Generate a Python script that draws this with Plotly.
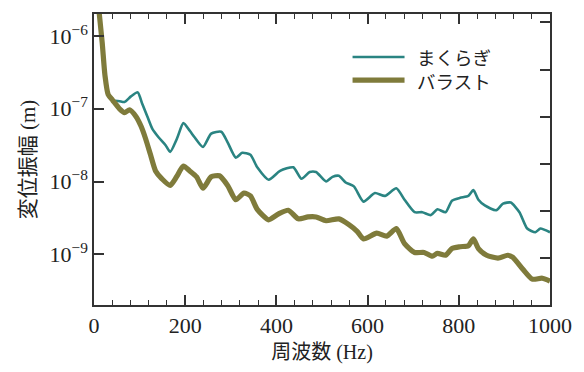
import plotly.graph_objects as go

# ---- data ----
series_names = ["まくらぎ", "バラスト"]

freq_sleeper = [12, 18, 24, 31, 41, 56, 67, 81, 96, 106, 117, 128, 142, 157, 167, 182,
                196, 210, 221, 239, 257, 279, 293, 311, 325, 343, 358, 383, 408, 437,
                455, 473, 487, 509, 523, 537, 552, 570, 591, 616, 638, 663, 681, 703,
                720, 739, 753, 771, 785, 803, 821, 832, 843, 857, 882, 897, 914, 933,
                950, 968, 979, 1000]
disp_sleeper = [2.2e-6, 8.09e-7, 2.89e-7, 1.57e-7, 1.31e-7, 1.27e-7, 1.24e-7, 1.48e-7,
                1.68e-7, 1.16e-7, 7.85e-8, 5.30e-8, 4.03e-8, 3.16e-8, 2.56e-8, 3.91e-8,
                6.35e-8, 4.98e-8, 4.03e-8, 2.98e-8, 4.55e-8, 4.83e-8, 3.46e-8, 2.13e-8,
                2.48e-8, 2.33e-8, 1.57e-8, 1.06e-8, 1.40e-8, 1.57e-8, 1.09e-8, 1.35e-8,
                1.35e-8, 1.0e-8, 1.16e-8, 1.20e-8, 9.7e-9, 8.59e-9, 5.30e-9, 6.95e-9,
                6.35e-9, 8.09e-9, 5.62e-9, 3.79e-9, 3.79e-9, 3.46e-9, 4.15e-9, 3.79e-9,
                5.46e-9, 5.97e-9, 6.35e-9, 7.62e-9, 5.62e-9, 4.69e-9, 4.03e-9, 4.98e-9,
                5.14e-9, 3.79e-9, 2.26e-9, 2.01e-9, 2.26e-9, 2.01e-9]

freq_ballast = [11, 18, 24, 31, 41, 56, 67, 78, 92, 103, 113, 124, 135, 149, 167, 181,
                196, 210, 225, 239, 257, 275, 293, 311, 329, 343, 358, 383, 404, 426,
                448, 469, 487, 509, 537, 559, 577, 591, 620, 642, 663, 681, 703, 724,
                742, 753, 771, 785, 803, 821, 832, 843, 861, 886, 907, 918, 941, 961,
                983, 1000]
disp_ballast = [2.2e-6, 8.09e-7, 2.89e-7, 1.57e-7, 1.31e-7, 1.0e-7, 8.86e-8, 9.7e-8,
                7.85e-8, 5.79e-8, 3.91e-8, 2.33e-8, 1.40e-8, 1.09e-8, 8.85e-9, 1.16e-8,
                1.63e-8, 1.40e-8, 1.16e-8, 8.09e-9, 1.16e-8, 1.20e-8, 8.85e-9, 5.62e-9,
                6.95e-9, 6.35e-9, 4.15e-9, 2.98e-9, 3.57e-9, 4.03e-9, 3.07e-9, 3.26e-9,
                3.26e-9, 2.89e-9, 3.07e-9, 2.56e-9, 2.07e-9, 1.63e-9, 1.95e-9, 1.78e-9,
                2.26e-9, 1.40e-9, 1.06e-9, 1.06e-9, 9.41e-10, 1.03e-9, 9.7e-10, 1.20e-9,
                1.27e-9, 1.31e-9, 1.63e-9, 1.20e-9, 9.7e-10, 8.86e-10, 9.7e-10, 9.14e-10,
                6.16e-10, 4.55e-10, 4.69e-10, 4.28e-10]

y_tickvals = [1e-9, 1e-8, 1e-7, 1e-6]
y_ticktext = ["10<sup>−9</sup>", "10<sup>−8</sup>", "10<sup>−7</sup>", "10<sup>−6</sup>"]
x_tickvals = [0, 200, 400, 600, 800, 1000]
right_tickvals = [1, 2, 3, 4, 5, 6]

# ---- style ----
TEAL = "#2a8482"
OLIVE = "#7f7b3b"
AXC = "#333333"
SERIF = "Liberation Serif"
CJK = "Noto Sans CJK JP"
MIXED = "Liberation Serif, Noto Sans CJK JP"

fig = go.Figure()
fig.add_trace(go.Scatter(x=freq_sleeper, y=disp_sleeper, mode="lines",
                         name=series_names[0],
                         line=dict(color=TEAL, width=2.6, shape="spline", smoothing=0.6),
                         showlegend=False))
fig.add_trace(go.Scatter(x=freq_ballast, y=disp_ballast, mode="lines",
                         name=series_names[1],
                         line=dict(color=OLIVE, width=5.2, shape="spline", smoothing=0.6),
                         showlegend=False))
# empty trace so the right-hand tick axis is drawn
fig.add_trace(go.Scatter(x=[], y=[], yaxis="y2", showlegend=False, hoverinfo="skip"))

# custom legend (long line samples like the reference)
leg_y = [0.852, 0.773]
leg_col = [TEAL, OLIVE]
leg_w = [2.6, 5.2]
for i in range(2):
    fig.add_shape(type="line", xref="paper", yref="paper",
                  x0=0.567, x1=0.681, y0=leg_y[i], y1=leg_y[i],
                  line=dict(color=leg_col[i], width=leg_w[i]))
fig.add_annotation(xref="paper", yref="paper", x=0.703, y=(leg_y[0] + leg_y[1]) / 2,
                   xanchor="left", yanchor="middle", showarrow=False, align="left",
                   text="<br>".join(series_names),
                   font=dict(family=CJK, size=18.5, color="#222222"))

fig.update_layout(
    width=584, height=372,
    margin=dict(l=94, r=26, t=13, b=55),
    paper_bgcolor="white", plot_bgcolor="white",
    font=dict(family=SERIF, size=22, color="#222222"),
    xaxis=dict(
        range=[0, 1000], tickvals=x_tickvals, ticks="inside", ticklen=10,
        tickwidth=1.5, tickcolor=AXC, showline=True, linecolor=AXC, linewidth=1.5,
        mirror="ticks", showgrid=False, zeroline=False,
        minor=dict(dtick=40, ticks="inside", ticklen=5, tickwidth=1.3,
                   tickcolor=AXC, showgrid=False),
        title=dict(text="周波数 (Hz)", standoff=8,
                   font=dict(family=MIXED, size=20)),
        tickfont=dict(family=SERIF, size=22),
    ),
    yaxis=dict(
        type="log", range=[-9.697, -5.697], tickvals=y_tickvals, ticktext=y_ticktext,
        ticks="inside", ticklen=10, tickwidth=1.5, tickcolor=AXC,
        showline=True, linecolor=AXC, linewidth=1.5, mirror=True,
        showgrid=False, zeroline=False,
        title=dict(text="変位振幅 (m)", standoff=8,
                   font=dict(family=MIXED, size=21)),
        tickfont=dict(family=SERIF, size=22),
    ),
    yaxis2=dict(
        overlaying="y", side="right", anchor="x", range=[0, 6.18],
        tickvals=right_tickvals, ticks="inside", ticklen=10, tickwidth=1.5,
        tickcolor=AXC, showticklabels=False, showline=False, showgrid=False,
        zeroline=False,
    ),
)

fig.write_html("out.html")
